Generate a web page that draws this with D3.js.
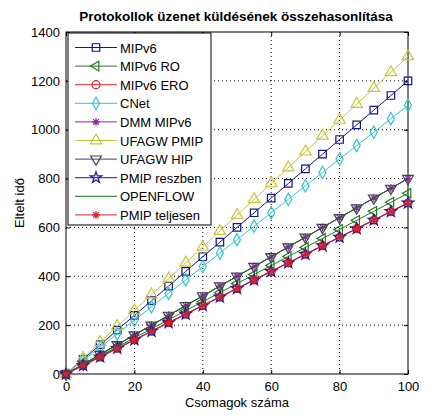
<!DOCTYPE html>
<html>
<head>
<meta charset="utf-8">
<script src="https://cdn.jsdelivr.net/npm/d3@7"></script>
<style>
  body { margin: 0; background: #fff; }
  text { font-family: 'Liberation Sans', Arial, sans-serif; }
</style>
</head>
<body>
<div id="chart"></div>
<script>
// x values (number of packets)
const packets = [0, 5, 10, 15, 20, 25, 30, 35, 40, 45, 50, 55, 60, 65, 70, 75, 80, 85, 90, 95, 100]

// elapsed time per protocol
const mipv6 = [0, 60, 120, 180, 240, 300, 360, 420, 480, 540, 600, 660, 720, 780, 840, 900, 960, 1020, 1080, 1140, 1200]
const mipv6Ro = [0, 37, 74, 111, 148, 185, 222, 259, 296, 333, 370, 407, 444, 481, 518, 555, 592, 629, 666, 703, 740]
const mipv6Ero = [0, 35, 70, 105, 140, 175, 210, 245, 280, 315, 350, 385, 420, 455, 490, 525, 560, 595, 630, 665, 700]
const cnet = [0, 55, 110, 165, 220, 275, 330, 385, 440, 495, 550, 605, 660, 715, 770, 825, 880, 935, 990, 1045, 1100]
const dmmMipv6 = [0, 40, 80, 120, 160, 200, 240, 280, 320, 360, 400, 440, 480, 520, 560, 600, 640, 680, 720, 760, 800]
const ufagwPmip = [0, 65, 130, 195, 260, 325, 390, 455, 520, 585, 650, 715, 780, 845, 910, 975, 1040, 1105, 1170, 1235, 1300]
const ufagwHip = [0, 40, 80, 120, 160, 200, 240, 280, 320, 360, 400, 440, 480, 520, 560, 600, 640, 680, 720, 760, 800]
const pmipReszben = [0, 35, 70, 105, 140, 175, 210, 245, 280, 315, 350, 385, 420, 455, 490, 525, 560, 595, 630, 665, 700]
const openflow = [0, 40, 80, 120, 160, 200, 240, 280, 320, 360, 400, 440, 480, 520, 560, 600, 640, 680, 720, 760, 800]
const pmipTeljesen = [0, 35, 70, 105, 140, 175, 210, 245, 280, 315, 350, 385, 420, 455, 490, 525, 560, 595, 630, 665, 700]

const seriesNames = ['MIPv6', 'MIPv6 RO', 'MIPv6 ERO', 'CNet', 'DMM MIPv6', 'UFAGW PMIP', 'UFAGW HIP', 'PMIP reszben', 'OPENFLOW', 'PMIP teljesen']
const seriesValues = [mipv6, mipv6Ro, mipv6Ero, cnet, dmmMipv6, ufagwPmip, ufagwHip, pmipReszben, openflow, pmipTeljesen]

const xTicks = [0, 20, 40, 60, 80, 100]
const yTicks = [0, 200, 400, 600, 800, 1000, 1200, 1400]

// asterisk marker like matlab '*'
const asterisk = {
  draw(ctx, size) {
    const r = Math.sqrt(size) / 2
    const d = r * 0.707
    ctx.moveTo(-r, 0); ctx.lineTo(r, 0)
    ctx.moveTo(0, -r); ctx.lineTo(0, r)
    ctx.moveTo(-d, -d); ctx.lineTo(d, d)
    ctx.moveTo(-d, d); ctx.lineTo(d, -d)
  }
}

const styles = [
  { color: '#14148c', symbol: d3.symbolSquare, size: 56, rotate: 0 },
  { color: '#1d7a1d', symbol: d3.symbolTriangle, size: 40, rotate: -90 },
  { color: '#e8282d', symbol: d3.symbolCircle, size: 50, rotate: 0 },
  { color: '#33c4cc', symbol: d3.symbolDiamond, size: 44, rotate: 0 },
  { color: '#8a2d9c', symbol: asterisk, size: 64, rotate: 0 },
  { color: '#c9c43a', symbol: d3.symbolTriangle, size: 56, rotate: 0 },
  { color: '#4a3a5a', symbol: d3.symbolTriangle, size: 50, rotate: 180 },
  { color: '#1a1a8a', symbol: d3.symbolStar, size: 40, rotate: 0 },
  { color: '#1f6e1f', symbol: null, size: 0, rotate: 0 },
  { color: '#d42030', symbol: asterisk, size: 64, rotate: 0 },
]

const series = seriesNames.map((name, i) => ({ name, values: seriesValues[i], ...styles[i] }))

const width = 442
const height = 419
const plot = { left: 66, right: 408, top: 32, bottom: 374 }

const svg = d3.select('#chart').append('svg')
  .attr('width', width)
  .attr('height', height)

svg.append('rect').attr('width', width).attr('height', height).attr('fill', '#fff')

const x = d3.scaleLinear().domain([0, 100]).range([plot.left, plot.right])
const y = d3.scaleLinear().domain([0, 1400]).range([plot.bottom, plot.top])

// dotted grid
svg.append('g')
  .selectAll('line')
  .data(xTicks.slice(1, -1))
  .join('line')
  .attr('x1', d => x(d)).attr('x2', d => x(d))
  .attr('y1', plot.top).attr('y2', plot.bottom)
  .attr('stroke', '#000').attr('stroke-width', 1).attr('stroke-dasharray', '1,3')

svg.append('g')
  .selectAll('line')
  .data(yTicks.slice(1, -1))
  .join('line')
  .attr('x1', plot.left).attr('x2', plot.right)
  .attr('y1', d => y(d)).attr('y2', d => y(d))
  .attr('stroke', '#000').attr('stroke-width', 1).attr('stroke-dasharray', '1,3')

// axes, ticks inside
const fmt = d3.format('d')
const xAxis = svg.append('g')
  .attr('transform', `translate(0,${plot.bottom})`)
  .call(d3.axisBottom(x).tickValues(xTicks).tickFormat(fmt).tickSizeInner(-4).tickSizeOuter(0).tickPadding(8))
const xAxisTop = svg.append('g')
  .attr('transform', `translate(0,${plot.top})`)
  .call(d3.axisTop(x).tickValues(xTicks).tickSizeInner(-4).tickSizeOuter(0).tickFormat(''))
const yAxis = svg.append('g')
  .attr('transform', `translate(${plot.left},0)`)
  .call(d3.axisLeft(y).tickValues(yTicks).tickFormat(fmt).tickSizeInner(-4).tickSizeOuter(0).tickPadding(6))
const yAxisRight = svg.append('g')
  .attr('transform', `translate(${plot.right},0)`)
  .call(d3.axisRight(y).tickValues(yTicks).tickSizeInner(-4).tickSizeOuter(0).tickFormat(''))

;[xAxis, xAxisTop, yAxis, yAxisRight].forEach(g => {
  g.select('.domain').remove()
  g.selectAll('line').attr('stroke', '#000')
  g.selectAll('text').attr('font-size', 13).attr('fill', '#000')
    .attr('font-family', "'Liberation Sans', Arial, sans-serif")
})

svg.append('rect')
  .attr('x', plot.left).attr('y', plot.top)
  .attr('width', plot.right - plot.left).attr('height', plot.bottom - plot.top)
  .attr('fill', 'none').attr('stroke', '#000').attr('stroke-width', 1)

// lines and markers
const line = d3.line().x((d, i) => x(packets[i])).y(d => y(d))

series.forEach(s => {
  const g = svg.append('g')
  g.append('path')
    .datum(s.values)
    .attr('d', line)
    .attr('fill', 'none')
    .attr('stroke', s.color)
    .attr('stroke-width', 1)
  if (s.symbol) {
    g.selectAll('path.mark')
      .data(s.values)
      .join('path')
      .attr('class', 'mark')
      .attr('d', d3.symbol(s.symbol, s.size))
      .attr('transform', (d, i) => `translate(${x(packets[i])},${y(d)}) rotate(${s.rotate})`)
      .attr('fill', 'none')
      .attr('stroke', s.color)
      .attr('stroke-width', 1.2)
  }
})

// legend
const legend = svg.append('g')
legend.append('rect')
  .attr('x', 68).attr('y', 33)
  .attr('width', 143).attr('height', 192)
  .attr('fill', '#fff').attr('stroke', '#000').attr('stroke-width', 1)

const rows = legend.selectAll('g.row')
  .data(series)
  .join('g')
  .attr('class', 'row')
  .attr('transform', (d, i) => `translate(0,${47.5 + i * 18.6})`)

rows.append('line')
  .attr('x1', 75).attr('x2', 117)
  .attr('stroke', d => d.color).attr('stroke-width', 1)

rows.filter(d => d.symbol)
  .append('path')
  .attr('d', d => d3.symbol(d.symbol, d.size)())
  .attr('transform', d => `translate(96,0) rotate(${d.rotate})`)
  .attr('fill', 'none')
  .attr('stroke', d => d.color)
  .attr('stroke-width', 1.2)

rows.append('text')
  .attr('x', 120).attr('y', 5)
  .attr('font-size', 13)
  .attr('fill', '#000')
  .text(d => d.name)

// title and labels
svg.append('text')
  .attr('x', 236).attr('y', 21)
  .attr('text-anchor', 'middle')
  .attr('font-size', 13.5)
  .attr('font-weight', 'bold')
  .text('Protokollok üzenet küldésének összehasonlítása')

svg.append('text')
  .attr('x', 237).attr('y', 407)
  .attr('text-anchor', 'middle')
  .attr('font-size', 13)
  .text('Csomagok száma')

svg.append('text')
  .attr('transform', 'translate(24,203) rotate(-90)')
  .attr('text-anchor', 'middle')
  .attr('font-size', 13)
  .text('Eltelt idő')
</script>
</body>
</html>
